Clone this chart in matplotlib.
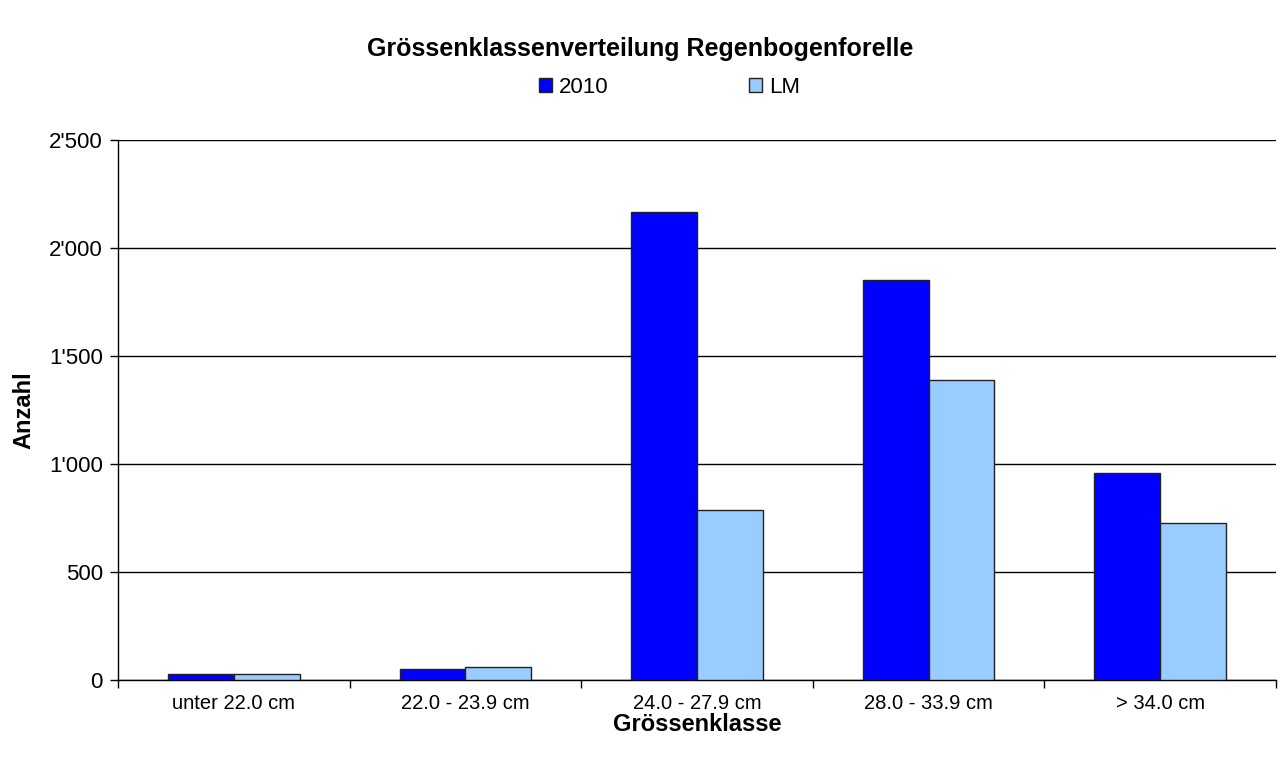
import numpy as np
import matplotlib.pyplot as plt
from matplotlib.ticker import FuncFormatter
from matplotlib.patches import Patch

plt.rcParams['font.family'] = ['Liberation Sans', 'DejaVu Sans']

# data
klassen = ['unter 22.0 cm', '22.0 - 23.9 cm', '24.0 - 27.9 cm', '28.0 - 33.9 cm', '> 34.0 cm']
werte_2010 = [28, 51, 2167, 1853, 960]
werte_lm = [28, 58, 789, 1387, 725]
serien = ['2010', 'LM']

fig = plt.figure(figsize=(12.8, 7.65), dpi=100)
ax = fig.add_axes([0.0922, 0.1111, 0.9047, 0.7059])

x = np.arange(len(klassen))
w = 0.284
ax.bar(x - w/2, werte_2010, w, color='#0000ff', edgecolor='#222222', linewidth=1, zorder=3)
ax.bar(x + w/2, werte_lm, w, color='#99ccff', edgecolor='#222222', linewidth=1, zorder=3)

ax.set_xlim(-0.5, len(klassen) - 0.5)
ax.set_ylim(0, 2500)
ax.set_yticks(np.arange(0, 2501, 500))
ax.yaxis.set_major_formatter(FuncFormatter(lambda v, p: f"{int(v):,}".replace(',', "'")))
ax.grid(axis='y', color='#000000', linewidth=1, zorder=0)

# category boundaries as ticks, labels in the middle
ax.set_xticks(np.arange(-0.5, len(klassen)), minor=False)
ax.set_xticklabels([])
ax.set_xticks(x, minor=True)
ax.set_xticklabels(klassen, minor=True, fontsize=14.5)
ax.tick_params(axis='x', which='minor', length=0, pad=10)
ax.tick_params(axis='x', which='major', length=6, direction='out', width=1)
ax.tick_params(axis='y', length=6, direction='out', width=1, labelsize=16, pad=5)

for s in ['top', 'right']:
    ax.spines[s].set_visible(False)
ax.spines['left'].set_linewidth(1)
ax.spines['bottom'].set_linewidth(1)

ax.set_xlabel('Grössenklasse', fontsize=17, fontweight='bold', labelpad=0)
ax.set_ylabel('Anzahl', fontsize=17, fontweight='bold', labelpad=10)

fig.suptitle('Grössenklassenverteilung Regenbogenforelle', y=0.952, fontsize=18, fontweight='bold')

handles = [Patch(facecolor='#0000ff', edgecolor='#222222'),
           Patch(facecolor='#99ccff', edgecolor='#222222')]
fig.legend(handles, serien, loc='center', bbox_to_anchor=(0.523, 0.886), ncol=2,
           frameon=False, fontsize=16, handlelength=0.6, handleheight=0.6,
           handletextpad=0.3, columnspacing=6.3)

fig.savefig('out.png', dpi=100)
